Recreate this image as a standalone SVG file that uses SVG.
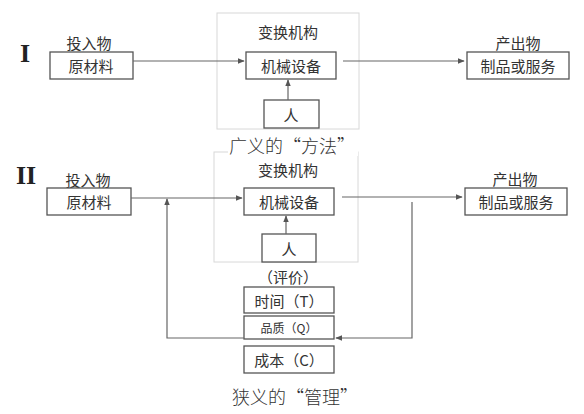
<svg xmlns="http://www.w3.org/2000/svg" width="584" height="414" viewBox="0 0 584 414">
<defs>
<style>
.bx{fill:#fff;stroke:#555;stroke-width:1.3}
.ct{fill:none;stroke:#d8d8d8;stroke-width:1}
.ln{fill:none;stroke:#666;stroke-width:1.2}
.t{font-family:"Noto Sans CJK SC","Noto Sans",sans-serif;font-size:15px;fill:#333;text-anchor:middle;dominant-baseline:central}
.cap{font-family:"Noto Sans CJK SC",sans-serif;font-size:18px;fill:#333;text-anchor:middle;dominant-baseline:central;font-weight:300}
.rn{font-family:"Liberation Serif",serif;font-size:26px;font-weight:bold;fill:#222;text-anchor:middle;dominant-baseline:central}
</style>
<marker id="ah" viewBox="0 0 10 10" refX="9" refY="5" markerWidth="6" markerHeight="6" orient="auto"><path d="M0,1 L10,5 L0,9 Z" fill="#555"/></marker>
</defs>
<rect width="584" height="414" fill="#fff"/>
<rect id="container-1" class="ct" x="217" y="13" width="142" height="116"/>
<rect id="container-2" class="ct" x="214" y="152" width="144" height="110"/>

<g id="section-I">
<text class="rn" x="25" y="53">I</text>
<text class="t" x="288" y="31">变换机构</text>
<g id="n1-input"><text class="t" x="89" y="42">投入物</text><rect class="bx" x="50" y="52" width="83" height="27"/><text class="t" x="91" y="65">原材料</text></g>
<g id="n1-machine"><rect class="bx" x="246" y="52" width="90" height="27"/><text class="t" x="291" y="65">机械设备</text></g>
<g id="n1-person"><rect class="bx" x="264" y="100" width="55" height="28"/><text class="t" x="291" y="114">人</text></g>
<g id="n1-output"><text class="t" x="518" y="42">产出物</text><rect class="bx" x="467" y="52" width="102" height="27"/><text class="t" x="518" y="65">制品或服务</text></g>
<rect x="228" y="136" width="130" height="20" fill="#fff"/>
<text class="cap" x="292" y="145">广义的“方法”</text>
</g>

<g id="section-II">
<text class="rn" x="26" y="175">II</text>
<text class="t" x="288" y="169">变换机构</text>
<g id="n2-input"><text class="t" x="88" y="179">投入物</text><rect class="bx" x="47" y="188" width="84" height="27"/><text class="t" x="89" y="201">原材料</text></g>
<g id="n2-machine"><rect class="bx" x="244" y="188" width="90" height="27"/><text class="t" x="289" y="201">机械设备</text></g>
<g id="n2-person"><rect class="bx" x="262" y="234" width="54" height="28"/><text class="t" x="289" y="248">人</text></g>
<g id="n2-output"><text class="t" x="515" y="178">产出物</text><rect class="bx" x="465" y="188" width="102" height="27"/><text class="t" x="516" y="201">制品或服务</text></g>
<text class="t" x="288" y="276">（评价）</text>
<g id="n2-time"><rect class="bx" x="244" y="287" width="90" height="26"/><text class="t" x="289" y="300">时间（T）</text></g>
<g id="n2-quality"><rect class="bx" x="244" y="316" width="90" height="23"/><text class="t" x="289" y="327" style="font-size:12px">品质（Q）</text></g>
<g id="n2-cost"><rect class="bx" x="244" y="346" width="90" height="27"/><text class="t" x="289" y="359">成本（C）</text></g>
<text class="cap" x="295" y="396">狭义的“管理”</text>
</g>

<g id="connectors">
<line class="ln" x1="133" y1="61" x2="244" y2="61" marker-end="url(#ah)"/>
<line class="ln" x1="288" y1="100" x2="288" y2="80" marker-end="url(#ah)"/>
<line class="ln" x1="343" y1="61" x2="464" y2="61" marker-end="url(#ah)"/>
<line class="ln" x1="131" y1="198" x2="242" y2="198" marker-end="url(#ah)"/>
<line class="ln" x1="286" y1="234" x2="286" y2="216" marker-end="url(#ah)"/>
<line class="ln" x1="342" y1="197" x2="462" y2="197" marker-end="url(#ah)"/>
<polyline class="ln" points="412,202 412,338 336,338" marker-end="url(#ah)"/>
<polyline class="ln" points="244,338 167,338 167,199" marker-end="url(#ah)"/>
</g>
</svg>
